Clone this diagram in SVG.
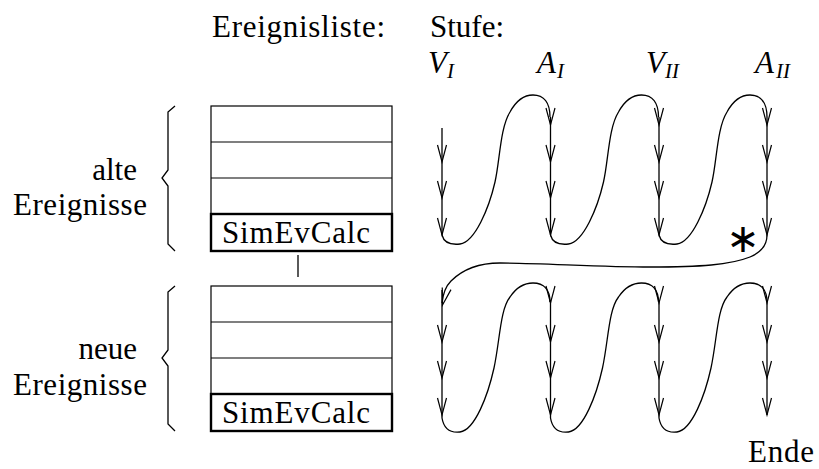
<svg xmlns="http://www.w3.org/2000/svg" xmlns:xlink="http://www.w3.org/1999/xlink" width="819" height="469" viewBox="0 0 819 469">
<style>
.t{font-family:'Liberation Serif','Tinos','Times New Roman','Times','Nimbus Roman','Nimbus Roman No9 L','FreeSerif','DejaVu Serif','Noto Serif','Latin Modern Roman',serif;font-size:31px;fill:#000}
.it{font-style:italic}
.sub{font-size:21px;font-style:italic}
.ln{fill:none;stroke:#000;stroke-width:1.3}
.box{fill:none;stroke:#000;stroke-width:1.2}
.thick{fill:none;stroke:#000;stroke-width:2.4}
</style>
<defs>
<path id="ah" d="M-4.5,-17 L0,0 L4.5,-17" fill="none" stroke="#000" stroke-width="1.2"/>
<path id="humpU" class="ln" d="M0,235 C2,243 9,245 18,244 C33,242 47,208 53,182 C58,160 58,128 68,112 C74,101 82,95 91,95 C102,95 108,103 108,117"/>
<path id="humpL" class="ln" d="M0,418 C2,430 9,433 18,432 C33,430 46,395 52,368 C58,340 58,310 68,297 C74,288 81,283 91,283 C102,283 108,290 108,302"/>
<path id="brace" class="ln" d="M175,106 L168,112 V170 L162,178 L168,186 V244 L175,251"/>
</defs>

<g id="header">
<text class="t" x="212" y="37" textLength="173" lengthAdjust="spacing">Ereignisliste:</text>
<text class="t" x="430" y="37">Stufe:</text>
</g>
<g id="stage-VI"><text class="t it" x="428" y="73">V</text><text class="t sub" x="447" y="78">I</text></g>
<g id="stage-AI"><text class="t it" x="537" y="73">A</text><text class="t sub" x="557" y="78">I</text></g>
<g id="stage-VII"><text class="t it" x="646" y="73">V</text><text class="t sub" x="665" y="78">II</text></g>
<g id="stage-AII"><text class="t it" x="755" y="73">A</text><text class="t sub" x="776" y="78">II</text></g>

<g id="old-events">
<use xlink:href="#brace"/>
<text class="t" x="137" y="180" text-anchor="end">alte</text>
<text class="t" x="13" y="215" textLength="134" lengthAdjust="spacing">Ereignisse</text>
</g>
<g id="new-events">
<use xlink:href="#brace" y="180"/>
<text class="t" x="137" y="359" text-anchor="end">neue</text>
<text class="t" x="13" y="395" textLength="134" lengthAdjust="spacing">Ereignisse</text>
</g>

<g id="list-old">
<rect class="box" x="211" y="106" width="181" height="108"/>
<line class="box" x1="211" y1="142" x2="392" y2="142"/>
<line class="box" x1="211" y1="178" x2="392" y2="178"/>
<rect class="thick" x="211" y="214" width="181" height="37"/>
<text class="t" x="222" y="243" textLength="148" lengthAdjust="spacing">SimEvCalc</text>
</g>
<g id="list-new">
<rect class="box" x="211" y="286" width="181" height="108"/>
<line class="box" x1="211" y1="322" x2="392" y2="322"/>
<line class="box" x1="211" y1="358" x2="392" y2="358"/>
<rect class="thick" x="211" y="394" width="181" height="37"/>
<text class="t" x="222" y="423" textLength="148" lengthAdjust="spacing">SimEvCalc</text>
</g>

<g id="star"><text x="743" y="252" text-anchor="middle" font-family="DejaVu Sans, sans-serif" font-size="40" fill="#000">∗</text></g>
<g id="end"><text class="t" x="748" y="462" textLength="66" lengthAdjust="spacing">Ende</text></g>

<g id="connectors">
<line class="ln" x1="298" y1="255" x2="298" y2="277"/>
<line class="ln" x1="442" y1="128" x2="442" y2="235"/>
<line class="ln" x1="550.5" y1="117" x2="550.5" y2="235"/>
<line class="ln" x1="659" y1="117" x2="659" y2="235"/>
<line class="ln" x1="767" y1="117" x2="767" y2="235"/>
<use xlink:href="#humpU" x="442"/>
<use xlink:href="#humpU" x="550.5"/>
<use xlink:href="#humpU" x="659"/>
<path class="ln" d="M767,235 C767,245 762,252 750,257 C730,265 700,267 650,267 C600,267 540,263 500,263 C475,263 460,272 451,281 C445,287 443,294 442,303"/>
<line class="ln" x1="442" y1="290" x2="442" y2="418"/>
<line class="ln" x1="550.5" y1="300" x2="550.5" y2="418"/>
<line class="ln" x1="659" y1="300" x2="659" y2="418"/>
<line class="ln" x1="767" y1="300" x2="767" y2="415"/>
<use xlink:href="#humpL" x="442"/>
<use xlink:href="#humpL" x="550.5"/>
<use xlink:href="#humpL" x="659"/>
<use xlink:href="#ah" x="442" y="162"/><use xlink:href="#ah" x="442" y="198"/><use xlink:href="#ah" x="442" y="235"/>
<use xlink:href="#ah" x="550.5" y="125"/><use xlink:href="#ah" x="550.5" y="162"/><use xlink:href="#ah" x="550.5" y="198"/><use xlink:href="#ah" x="550.5" y="235"/>
<use xlink:href="#ah" x="659" y="125"/><use xlink:href="#ah" x="659" y="162"/><use xlink:href="#ah" x="659" y="198"/><use xlink:href="#ah" x="659" y="235"/>
<use xlink:href="#ah" x="767" y="125"/><use xlink:href="#ah" x="767" y="162"/><use xlink:href="#ah" x="767" y="198"/><use xlink:href="#ah" x="767" y="235"/>
<use xlink:href="#ah" transform="translate(442.5,305) rotate(14)"/><use xlink:href="#ah" x="442" y="342"/><use xlink:href="#ah" x="442" y="378"/><use xlink:href="#ah" x="442" y="415"/>
<use xlink:href="#ah" x="550.5" y="303"/><use xlink:href="#ah" x="550.5" y="342"/><use xlink:href="#ah" x="550.5" y="378"/><use xlink:href="#ah" x="550.5" y="415"/>
<use xlink:href="#ah" x="659" y="303"/><use xlink:href="#ah" x="659" y="342"/><use xlink:href="#ah" x="659" y="378"/><use xlink:href="#ah" x="659" y="415"/>
<use xlink:href="#ah" x="767" y="303"/><use xlink:href="#ah" x="767" y="342"/><use xlink:href="#ah" x="767" y="378"/><use xlink:href="#ah" x="767" y="415"/>
</g>
</svg>
